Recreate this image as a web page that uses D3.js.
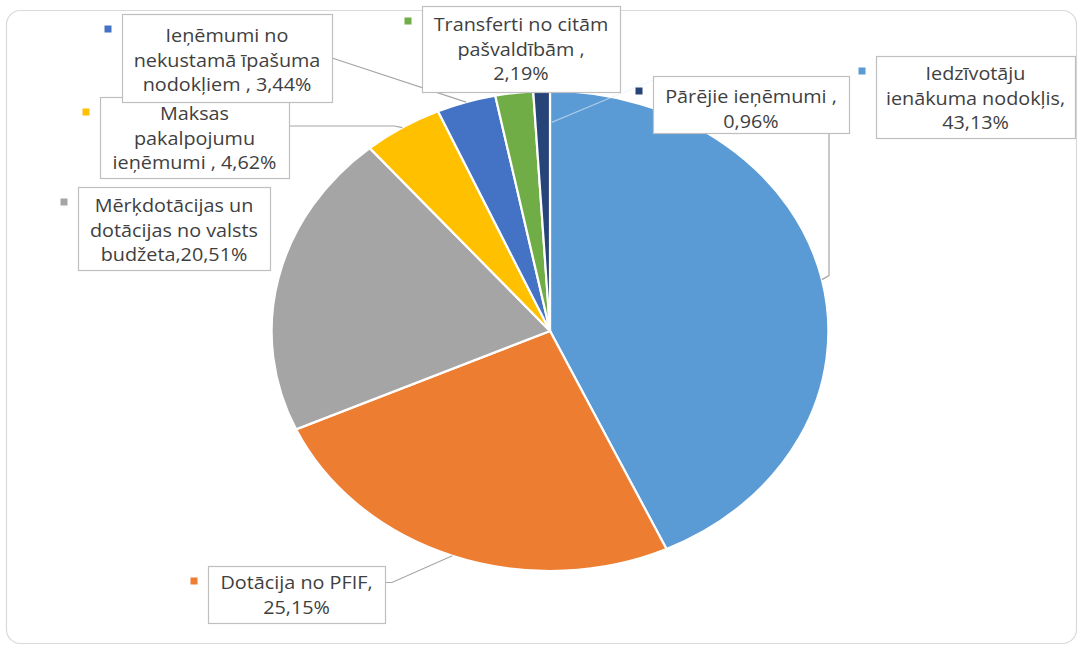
<!DOCTYPE html>
<html>
<head>
<meta charset="utf-8">
<script src="https://cdn.jsdelivr.net/npm/d3@7"></script>
<style>
html,body{margin:0;padding:0;background:#fff;}
svg{display:block;}
text{font-family:"Open Sans","DejaVu Sans",sans-serif;}
</style>
</head>
<body>
<svg id="chart" width="1080" height="648"></svg>
<script>
// ---- data ----
const categories = [
  "Iedzīvotāju ienākuma nodokļis",
  "Dotācija no PFIF",
  "Mērķdotācijas un dotācijas no valsts budžeta",
  "Maksas pakalpojumu ieņēmumi",
  "Ieņēmumi no nekustamā īpašuma nodokļiem",
  "Transferti no citām pašvaldībām",
  "Pārējie ieņēmumi"
];
const values = [43.13, 25.15, 20.51, 4.62, 3.44, 2.19, 0.96];
const colors = ["#5B9BD5", "#ED7D31", "#A5A5A5", "#FFC000", "#4472C4", "#70AD47", "#264478"];
// label text lines ({v} is replaced by the formatted value)
const labelLines = [
  ["Iedzīvotāju", "ienākuma nodokļis,", "{v}"],
  ["Dotācija no PFIF,", "{v}"],
  ["Mērķdotācijas un", "dotācijas no valsts", "budžeta,{v}"],
  ["Maksas", "pakalpojumu", "ieņēmumi , {v}"],
  ["Ieņēmumi no", "nekustamā īpašuma", "nodokļiem , {v}"],
  ["Transferti no citām", "pašvaldībām ,", "{v}"],
  ["Pārējie ieņēmumi ,", "{v}"]
];

// ---- layout (label boxes: x0, x1, y0, y1, first baseline) ----
const boxes = [
  {x0: 876, x1: 1075, y0: 56, y1: 138, base: 80, leader: "vertical", lx: 829, ly: 133},
  {x0: 208, x1: 385, y0: 566, y1: 623, base: 589, leader: "right"},
  {x0: 78, x1: 270, y0: 187, y1: 270, base: 212, leader: null},
  {x0: 100, x1: 289, y0: 97, y1: 178, base: 120, leader: "rightH"},
  {x0: 122, x1: 332, y0: 14, y1: 102, base: 42, leader: "rightTop"},
  {x0: 422, x1: 620, y0: 6, y1: 92, base: 31, leader: null},
  {x0: 653, x1: 849, y0: 76, y1: 133, base: 103, leader: "faint"}
];
const lineH = 24.5;

const fmt = v => d3.format(".2f")(v).replace(".", ",") + "%";

const svg = d3.select("#chart");

// outer frame
svg.append("rect")
  .attr("x", 6.5).attr("y", 10.5).attr("width", 1070).attr("height", 633)
  .attr("rx", 14).attr("ry", 14)
  .attr("fill", "#fff").attr("stroke", "#d9d9d9").attr("stroke-width", 1.2);

const cx = 550, cy = 331, R = 240, sx = 1.16;

const pie = d3.pie().sort(null).value(d => d)(values);
const arc = d3.arc().innerRadius(0).outerRadius(R);

const gPie = svg.append("g").attr("transform", `translate(${cx},${cy}) scale(${sx},1)`);
gPie.selectAll("path").data(pie).join("path")
  .attr("d", arc)
  .attr("fill", (d, i) => colors[i])
  .attr("stroke", "#fff")
  .attr("stroke-width", 2.2)
  .attr("vector-effect", "non-scaling-stroke");

// point on the (stretched) pie edge at a slice's mid angle
function edgePoint(d, r) {
  const a = (d.startAngle + d.endAngle) / 2;
  return [cx + Math.sin(a) * r * sx, cy - Math.cos(a) * r];
}

// leader lines
const gLead = svg.append("g");
pie.forEach((d, i) => {
  const b = boxes[i];
  if (!b.leader) return;
  const p = edgePoint(d, R);
  let pts;
  if (b.leader === "vertical") pts = [[b.lx, b.ly], [b.lx, p[1] - 4], p];
  else if (b.leader === "right") { const my = (b.y0 + b.y1) / 2 - 12; pts = [[b.x1, my], [b.x1 + 7, my], p]; }
  else if (b.leader === "rightH") { const my = b.y0 + 29; pts = [[b.x1, my], [p[0] - 8, my], p]; }
  else if (b.leader === "rightTop") { const my = b.y0 + 44; pts = [[b.x1, my], p]; }
  else if (b.leader === "faint") {
    const q = edgePoint(d, R * 0.87);
    pts = [[q[0] + 9, q[1]], [b.x0, b.y0 + 4]];
    gLead.append("path").attr("d", d3.line()(pts)).attr("fill", "none")
      .attr("stroke", "#e6eef8").attr("stroke-opacity", 0.55).attr("stroke-width", 1.3);
    return;
  }
  gLead.append("path").attr("d", d3.line()(pts)).attr("fill", "none")
    .attr("stroke", "#a6a6a6").attr("stroke-width", 1.2);
});

// label boxes
const gLab = svg.append("g");
boxes.forEach((b, i) => {
  const g = gLab.append("g");
  g.append("rect")
    .attr("x", b.x0 + 0.5).attr("y", b.y0 + 0.5)
    .attr("width", b.x1 - b.x0).attr("height", b.y1 - b.y0)
    .attr("fill", "#fff").attr("stroke", "#bfbfbf").attr("stroke-width", 1.2);
  const mid = (b.x0 + b.x1) / 2;
  labelLines[i].forEach((ln, k) => {
    g.append("text")
      .attr("transform", `translate(${mid},${b.base + k * lineH}) scale(1.1,1)`)
      .attr("text-anchor", "middle")
      .attr("font-size", 18)
      .attr("fill", "#3f3f3f")
      .text(ln.replace("{v}", fmt(values[i])));
  });
  // legend key square
  g.append("rect")
    .attr("x", b.x0 - 14 - 3.5).attr("y", b.y0 + 15 - 3.5)
    .attr("width", 7).attr("height", 7)
    .attr("fill", colors[i]);
});
</script>
</body>
</html>
